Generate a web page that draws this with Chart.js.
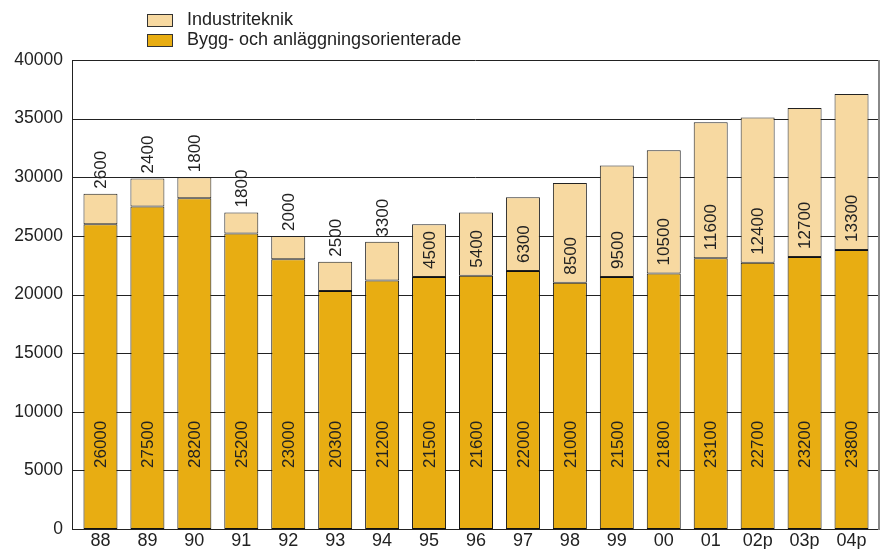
<!DOCTYPE html>
<html>
<head>
<meta charset="utf-8">
<script src="https://cdn.jsdelivr.net/npm/chart.js@4.4.1/dist/chart.umd.min.js"></script>
<style>
  html, body { margin: 0; padding: 0; background: #fff; }
  #wrap { width: 885px; height: 549px; }
</style>
</head>
<body>
<div id="wrap"><canvas id="chart" width="885" height="549"></canvas></div>
<script>
// Years (p = prognos)
const years = ['88', '89', '90', '91', '92', '93', '94', '95', '96', '97', '98', '99', '00', '01', '02p', '03p', '04p'];

// Bygg- och anläggningsorienterade
const byggValues = [26000, 27500, 28200, 25200, 23000, 20300, 21200, 21500, 21600, 22000, 21000, 21500, 21800, 23100, 22700, 23200, 23800];

// Industriteknik
const industriValues = [2600, 2400, 1800, 1800, 2000, 2500, 3300, 4500, 5400, 6300, 8500, 9500, 10500, 11600, 12400, 12700, 13300];

const yTicks = [0, 5000, 10000, 15000, 20000, 25000, 30000, 35000, 40000];

const darkGold = '#E8AD12';
const lightGold = '#F7D9A1';
const fontFamily = '"Liberation Sans", Arial, Helvetica, sans-serif';
const textColor = '#222';

// Frame and grid lines, drawn wider than the bar area
const framePlugin = {
  id: 'frame',
  beforeDatasetsDraw(chart) {
    const { ctx } = chart;
    const y = chart.scales.y;
    const left = 72, right = 879;
    ctx.save();
    ctx.lineWidth = 1;
    ctx.strokeStyle = '#222';
    yTicks.forEach(v => {
      const py = Math.round(y.getPixelForValue(v)) + 0.5;
      ctx.beginPath();
      ctx.moveTo(left, py);
      ctx.lineTo(right, py);
      ctx.stroke();
    });
    const top = Math.round(y.getPixelForValue(40000));
    const bottom = Math.round(y.getPixelForValue(0)) + 1;
    ctx.beginPath();
    ctx.moveTo(left + 0.5, top);
    ctx.lineTo(left + 0.5, bottom);
    ctx.stroke();
    ctx.strokeStyle = '#888';
    ctx.lineWidth = 2;
    ctx.beginPath();
    ctx.moveTo(right, top);
    ctx.lineTo(right, bottom);
    ctx.stroke();
    ctx.restore();
  }
};

// Rotated value labels
const labelPlugin = {
  id: 'valueLabels',
  afterDatasetsDraw(chart) {
    const { ctx } = chart;
    ctx.save();
    ctx.font = '17px ' + fontFamily;
    ctx.fillStyle = textColor;
    ctx.textAlign = 'left';
    ctx.textBaseline = 'middle';
    chart.data.datasets.forEach((ds, di) => {
      const meta = chart.getDatasetMeta(di);
      meta.data.forEach((bar, i) => {
        const value = ds.data[i];
        let start;
        if (di === 0) {
          start = bar.base - 61;
        } else if (value >= 4000) {
          start = bar.base - 8;
        } else {
          start = bar.y - 5;
        }
        ctx.save();
        ctx.translate(bar.x + 1, start);
        ctx.rotate(-Math.PI / 2);
        ctx.fillText(String(value), 0, 0);
        ctx.restore();
      });
    });
    ctx.restore();
  }
};

// Legend at top left
const legendPlugin = {
  id: 'topLegend',
  afterDraw(chart) {
    const { ctx } = chart;
    const items = [
      { text: 'Industriteknik', color: lightGold, y: 14 },
      { text: 'Bygg- och anläggningsorienterade', color: darkGold, y: 34 }
    ];
    ctx.save();
    ctx.font = '18px ' + fontFamily;
    ctx.textBaseline = 'middle';
    ctx.textAlign = 'left';
    items.forEach(it => {
      ctx.fillStyle = it.color;
      ctx.fillRect(147, it.y, 25, 12);
      ctx.strokeStyle = '#333';
      ctx.lineWidth = 1;
      ctx.strokeRect(147.5, it.y + 0.5, 25, 12);
      ctx.fillStyle = textColor;
      ctx.fillText(it.text, 187, it.y + 6);
    });
    ctx.restore();
  }
};

new Chart(document.getElementById('chart'), {
  type: 'bar',
  data: {
    labels: years,
    datasets: [
      {
        label: 'Bygg- och anläggningsorienterade',
        data: byggValues,
        backgroundColor: darkGold,
        borderColor: '#111',
        borderWidth: 1,
        borderSkipped: false
      },
      {
        label: 'Industriteknik',
        data: industriValues,
        backgroundColor: lightGold,
        borderColor: '#222',
        borderWidth: 1,
        borderSkipped: false
      }
    ]
  },
  options: {
    responsive: false,
    animation: false,
    events: [],
    layout: { padding: { left: 0, right: 10, top: 60, bottom: 0 } },
    datasets: {
      bar: { categoryPercentage: 1, barPercentage: 0.724 }
    },
    plugins: {
      legend: { display: false },
      tooltip: { enabled: false }
    },
    scales: {
      x: {
        stacked: true,
        grid: { display: false, drawTicks: false, tickLength: 0 },
        border: { display: true, color: '#222', width: 1 },
        ticks: {
          color: textColor,
          padding: 1,
          maxRotation: 0,
          autoSkip: false,
          font: { family: fontFamily, size: 18 }
        },
        afterFit(scale) {
          scale.height = 20;
          scale.paddingLeft = 0;
          scale.paddingRight = 0;
        }
      },
      y: {
        stacked: true,
        min: 0,
        max: 40000,
        grid: { display: false, drawTicks: false, tickLength: 0 },
        border: { display: false },
        ticks: {
          stepSize: 5000,
          color: textColor,
          padding: 14,
          font: { family: fontFamily, size: 17.5 },
          callback: v => String(v)
        },
        afterFit(scale) {
          scale.width = 77;
          scale.paddingTop = 0;
          scale.paddingBottom = 0;
        }
      }
    }
  },
  plugins: [framePlugin, labelPlugin, legendPlugin]
});
</script>
</body>
</html>
